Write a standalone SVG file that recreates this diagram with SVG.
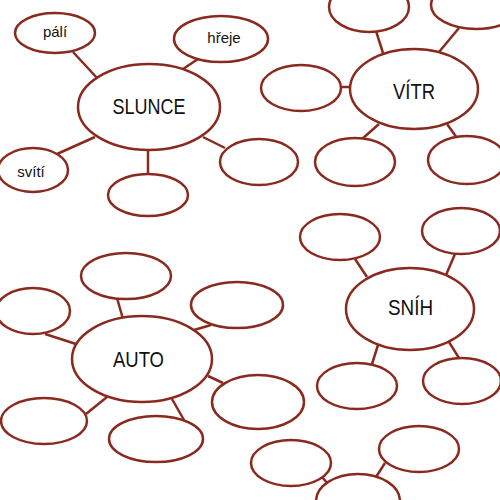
<svg xmlns="http://www.w3.org/2000/svg" width="500" height="500" viewBox="0 0 500 500">
<style>
.n ellipse{fill:#fff;stroke:#8a2a1e;stroke-width:2.5}
#connectors line{stroke:#8a2a1e;stroke-width:2.5;stroke-linecap:butt}
.big{font-family:"Liberation Sans",Arial,sans-serif;font-size:22px;fill:#111;text-anchor:middle}
.small{font-family:"Liberation Sans",Arial,sans-serif;font-size:15px;fill:#111;text-anchor:middle}
</style>
<rect width="500" height="500" fill="#fff"/>
<g id="connectors">
<line x1="73" y1="52" x2="98" y2="79"/>
<line x1="198" y1="59" x2="180" y2="71"/>
<line x1="57" y1="154" x2="95" y2="137"/>
<line x1="148" y1="150" x2="148" y2="174"/>
<line x1="203" y1="137" x2="225" y2="148"/>
<line x1="376" y1="31" x2="383" y2="53"/>
<line x1="459" y1="28" x2="439" y2="52"/>
<line x1="340" y1="87" x2="351" y2="87"/>
<line x1="362" y1="139" x2="379" y2="124"/>
<line x1="447" y1="124" x2="457" y2="138"/>
<line x1="355" y1="259" x2="367" y2="277"/>
<line x1="455" y1="254" x2="446" y2="275"/>
<line x1="378" y1="345" x2="372" y2="364"/>
<line x1="449" y1="342" x2="459" y2="358"/>
<line x1="117" y1="298" x2="123" y2="319"/>
<line x1="45" y1="334" x2="76" y2="344"/>
<line x1="194" y1="330" x2="211" y2="325"/>
<line x1="208" y1="376" x2="223" y2="383"/>
<line x1="86" y1="414" x2="107" y2="397"/>
<line x1="172" y1="399" x2="184" y2="420"/>
<line x1="322" y1="477" x2="328" y2="484"/>
<line x1="385" y1="463" x2="376" y2="477"/>
</g>
<g id="slunce" class="n"><ellipse cx="149" cy="107" rx="71" ry="43"/><text class="big" x="149" y="114" textLength="73" lengthAdjust="spacingAndGlyphs">SLUNCE</text></g>
<g id="pali" class="n"><ellipse cx="55" cy="33" rx="40" ry="20"/><text class="small" x="55" y="37">pálí</text></g>
<g id="hreje" class="n"><ellipse cx="221" cy="39" rx="47" ry="23"/><text class="small" x="224" y="43">hřeje</text></g>
<g id="sviti" class="n"><ellipse cx="33" cy="170" rx="35" ry="22"/><text class="small" x="31" y="177">svítí</text></g>
<g id="slunce-b" class="n"><ellipse cx="148" cy="195" rx="40" ry="21"/></g>
<g id="slunce-r" class="n"><ellipse cx="259" cy="162" rx="39" ry="23"/></g>

<g id="vitr" class="n"><ellipse cx="414" cy="89" rx="64" ry="40"/><text class="big" x="414" y="99" textLength="42" lengthAdjust="spacingAndGlyphs">VÍTR</text></g>
<g id="vitr-tl" class="n"><ellipse cx="369" cy="7" rx="40" ry="25"/></g>
<g id="vitr-tr" class="n"><ellipse cx="476" cy="5" rx="45" ry="24"/></g>
<g id="vitr-l" class="n"><ellipse cx="301" cy="88" rx="40" ry="23"/></g>
<g id="vitr-bl" class="n"><ellipse cx="355" cy="162" rx="40" ry="24"/></g>
<g id="vitr-br" class="n"><ellipse cx="467" cy="160" rx="39" ry="24"/></g>

<g id="snih" class="n"><ellipse cx="410" cy="309" rx="64" ry="41"/><text class="big" x="410.5" y="315" textLength="45" lengthAdjust="spacingAndGlyphs">SNÍH</text></g>
<g id="snih-tl" class="n"><ellipse cx="340" cy="237" rx="40" ry="23"/></g>
<g id="snih-tr" class="n"><ellipse cx="461" cy="231" rx="39" ry="23"/></g>
<g id="snih-bl" class="n"><ellipse cx="357" cy="386" rx="40" ry="23"/></g>
<g id="snih-br" class="n"><ellipse cx="462" cy="381" rx="39" ry="23"/></g>

<g id="auto" class="n"><ellipse cx="142" cy="359" rx="70" ry="43"/><text class="big" x="138.5" y="367" textLength="51" lengthAdjust="spacingAndGlyphs">AUTO</text></g>
<g id="auto-t" class="n"><ellipse cx="126" cy="276" rx="45" ry="23"/></g>
<g id="auto-l" class="n"><ellipse cx="33" cy="311" rx="37" ry="23"/></g>
<g id="auto-tr" class="n"><ellipse cx="237" cy="305" rx="46" ry="23"/></g>
<g id="auto-r" class="n"><ellipse cx="258" cy="402" rx="46" ry="27"/></g>
<g id="auto-bl" class="n"><ellipse cx="44" cy="421" rx="43" ry="23"/></g>
<g id="auto-b" class="n"><ellipse cx="156" cy="439" rx="47" ry="23"/></g>

<g id="bottom-l" class="n"><ellipse cx="291" cy="463" rx="40" ry="23"/></g>
<g id="bottom-r" class="n"><ellipse cx="419" cy="449" rx="40" ry="23"/></g>
<g id="bottom-c" class="n"><ellipse cx="358" cy="501" rx="42" ry="27"/></g>
</svg>
